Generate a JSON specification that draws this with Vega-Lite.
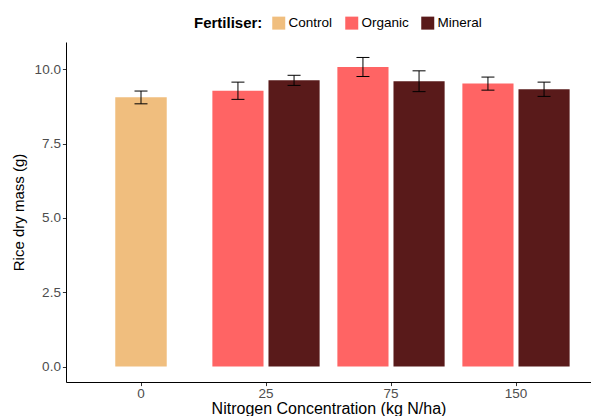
{
  "$schema": "https://vega.github.io/schema/vega-lite/v6.json",
  "width": 525,
  "height": 340,
  "autosize": {"type": "none"},
  "padding": {"left": 66, "top": 42, "right": 0, "bottom": 34},
  "background": "white",
  "config": {
    "view": {"stroke": null},
    "font": "Liberation Sans",
    "axis": {
      "grid": false,
      "domainColor": "black",
      "domainWidth": 1,
      "tickColor": "#333333",
      "tickSize": 3.6,
      "tickWidth": 1,
      "labelFontSize": 13.5,
      "labelColor": "#4D4D4D",
      "titleFontWeight": "normal",
      "titleColor": "black"
    }
  },
  "data": {
    "values": [
      {"conc": "0", "fert": "Control", "mean": 9.06, "lo": 8.84, "hi": 9.27},
      {"conc": "25", "fert": "Organic", "mean": 9.28, "lo": 8.99, "hi": 9.57},
      {"conc": "25", "fert": "Mineral", "mean": 9.63, "lo": 9.46, "hi": 9.8},
      {"conc": "75", "fert": "Organic", "mean": 10.08, "lo": 9.76, "hi": 10.4},
      {"conc": "75", "fert": "Mineral", "mean": 9.6, "lo": 9.25, "hi": 9.95},
      {"conc": "150", "fert": "Organic", "mean": 9.52, "lo": 9.3, "hi": 9.74},
      {"conc": "150", "fert": "Mineral", "mean": 9.33, "lo": 9.09, "hi": 9.57}
    ]
  },
  "encoding": {
    "x": {
      "field": "conc",
      "type": "nominal",
      "sort": ["0", "25", "75", "150"],
      "scale": {"paddingInner": 0.142, "paddingOuter": 0.171},
      "axis": {
        "title": "Nitrogen Concentration (kg N/ha)",
        "titleFontSize": 16,
        "titlePadding": 0,
        "labelAngle": 0,
        "labelPadding": 1
      }
    }
  },
  "layer": [
    {
      "transform": [{"filter": "datum.fert === 'Control'"}],
      "mark": {"type": "bar", "width": {"band": 0.48}},
      "encoding": {
        "y": {
          "field": "mean",
          "type": "quantitative",
          "scale": {"domain": [-0.52, 10.92], "nice": false, "zero": false},
          "axis": {
            "title": "Rice dry mass (g)",
            "titleFontSize": 15,
            "titlePadding": 8,
            "values": [0, 2.5, 5, 7.5, 10],
            "format": ".1f",
            "labelPadding": 2
          }
        },
        "y2": {"datum": 0},
        "color": {
          "field": "fert",
          "type": "nominal",
          "scale": {
            "domain": ["Control", "Organic", "Mineral"],
            "range": ["#F0BE7E", "#FF6464", "#591A1A"]
          },
          "legend": {
            "title": "Fertiliser:",
            "orient": "none",
            "legendX": 128,
            "legendY": -26,
            "direction": "horizontal",
            "titleOrient": "left",
            "titleFontSize": 15,
            "titleFontWeight": "bold",
            "titleColor": "black",
            "titlePadding": 9,
            "labelFontSize": 13.5,
            "labelColor": "black",
            "symbolType": "square",
            "symbolSize": 169,
            "symbolStrokeWidth": 0,
            "symbolOpacity": 1,
            "labelOffset": 3,
            "columnPadding": 12
          }
        }
      }
    },
    {
      "transform": [{"filter": "datum.fert !== 'Control'"}],
      "mark": {"type": "bar"},
      "encoding": {
        "xOffset": {
          "field": "fert",
          "type": "nominal",
          "sort": ["Organic", "Mineral"],
          "scale": {"paddingInner": 0.0885, "paddingOuter": 0}
        },
        "y": {"field": "mean", "type": "quantitative"},
        "y2": {"datum": 0},
        "color": {"field": "fert", "type": "nominal"}
      }
    },
    {
      "transform": [{"filter": "datum.fert === 'Control'"}],
      "mark": {"type": "rule", "color": "black", "strokeWidth": 1},
      "encoding": {
        "y": {"field": "lo", "type": "quantitative"},
        "y2": {"field": "hi"}
      }
    },
    {
      "transform": [
        {"filter": "datum.fert === 'Control'"},
        {"fold": ["lo", "hi"], "as": ["end", "val"]}
      ],
      "mark": {"type": "tick", "color": "black", "size": 13, "thickness": 1, "opacity": 1},
      "encoding": {
        "y": {"field": "val", "type": "quantitative"}
      }
    },
    {
      "transform": [{"filter": "datum.fert !== 'Control'"}],
      "mark": {"type": "rule", "color": "black", "strokeWidth": 1},
      "encoding": {
        "xOffset": {"field": "fert", "type": "nominal", "sort": ["Organic", "Mineral"]},
        "y": {"field": "lo", "type": "quantitative"},
        "y2": {"field": "hi"}
      }
    },
    {
      "transform": [
        {"filter": "datum.fert !== 'Control'"},
        {"fold": ["lo", "hi"], "as": ["end", "val"]}
      ],
      "mark": {"type": "tick", "color": "black", "size": 13, "thickness": 1, "opacity": 1},
      "encoding": {
        "xOffset": {"field": "fert", "type": "nominal", "sort": ["Organic", "Mineral"]},
        "y": {"field": "val", "type": "quantitative"}
      }
    }
  ]
}
